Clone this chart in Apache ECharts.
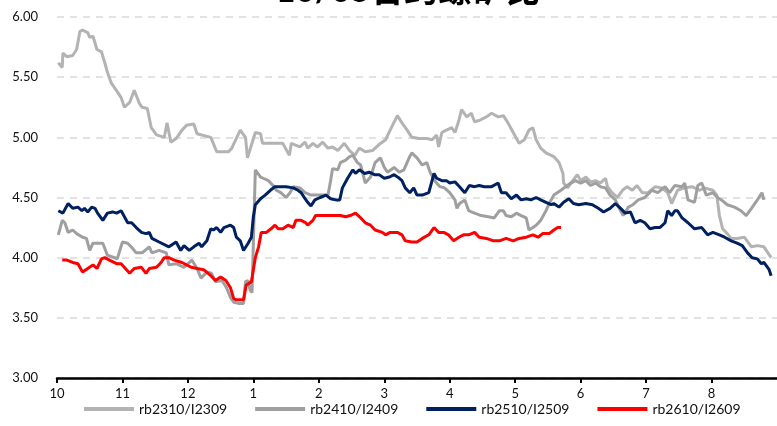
<!DOCTYPE html>
<html>
<head>
<meta charset="utf-8">
<script src="https://cdn.jsdelivr.net/npm/echarts@6/dist/echarts.min.js"></script>
<style>html,body{margin:0;padding:0;background:#fff;}#c{width:777px;height:426px;}</style>
</head>
<body>
<div id="c"></div>
<script>
// x = months elapsed since 1 Oct (0 = Oct, 3 = Jan, ... )
var monthLabels = ['10','11','12','1','2','3','4','5','6','7','8','9'];
var yTicks = [3.00, 3.50, 4.00, 4.50, 5.00, 5.50, 6.00];
var seriesNames = ['rb2310/I2309','rb2410/I2409','rb2510/I2509','rb2610/I2609'];

var rb2310 = [
[0.02,5.62],[0.08,5.58],[0.09,5.70],[0.15,5.67],[0.24,5.68],[0.30,5.73],[0.35,5.88],[0.39,5.89],[0.47,5.87],[0.50,5.83],
[0.55,5.84],[0.61,5.73],[0.68,5.71],[0.73,5.62],[0.77,5.54],[0.83,5.45],[0.92,5.38],[0.98,5.33],[1.03,5.25],[1.11,5.29],
[1.18,5.39],[1.21,5.35],[1.26,5.28],[1.30,5.25],[1.38,5.24],[1.44,5.08],[1.52,5.02],[1.64,5.00],[1.68,5.12],[1.74,4.96],
[1.82,4.99],[1.91,5.06],[1.98,5.10],[2.09,5.11],[2.14,5.03],[2.35,5.00],[2.44,4.88],[2.62,4.88],[2.67,4.91],[2.80,5.06],
[2.88,5.00],[2.91,4.83],[3.03,5.04],[3.11,5.03],[3.14,4.95],[3.45,4.95],[3.55,4.85],[3.58,4.95],[3.71,4.92],[3.79,4.96],
[3.83,4.91],[3.91,4.95],[3.98,4.92],[4.06,4.96],[4.14,4.91],[4.21,4.92],[4.29,4.89],[4.39,4.95],[4.47,4.89],[4.55,4.85],
[4.62,4.91],[4.71,4.88],[4.82,4.89],[4.92,4.94],[5.02,4.98],[5.09,5.06],[5.20,5.18],[5.27,5.12],[5.35,5.06],[5.42,5.00],
[5.53,4.99],[5.65,4.99],[5.73,4.98],[5.80,5.02],[5.83,4.92],[5.88,5.04],[5.95,5.06],[6.03,5.08],[6.08,5.04],[6.14,5.14],
[6.18,5.23],[6.26,5.17],[6.33,5.20],[6.38,5.13],[6.45,5.14],[6.56,5.17],[6.64,5.20],[6.74,5.17],[6.82,5.18],[6.89,5.12],
[6.98,5.03],[7.06,4.95],[7.14,4.98],[7.21,5.06],[7.27,5.08],[7.32,4.98],[7.39,4.91],[7.47,4.87],[7.55,4.85],[7.59,4.84],
[7.67,4.79],[7.73,4.70],[7.74,4.62],[7.80,4.58],[7.88,4.64],[7.95,4.69],[8.00,4.64],[8.08,4.67],[8.15,4.63],[8.23,4.64],
[8.30,4.62],[8.38,4.66],[8.41,4.59],[8.48,4.54],[8.56,4.50],[8.64,4.56],[8.71,4.59],[8.79,4.56],[8.86,4.60],[8.94,4.54],
[9.03,4.54],[9.14,4.59],[9.24,4.58],[9.33,4.54],[9.39,4.45],[9.48,4.56],[9.59,4.58],[9.70,4.59],[9.82,4.56],[9.89,4.58],
[10.02,4.56],[10.08,4.52],[10.12,4.35],[10.17,4.24],[10.24,4.20],[10.30,4.16],[10.39,4.16],[10.50,4.17],[10.61,4.09],[10.70,4.10],
[10.80,4.09],[10.91,4.00]
];

var rb2410 = [
[0.02,4.19],[0.08,4.31],[0.12,4.29],[0.17,4.21],[0.24,4.23],[0.30,4.20],[0.39,4.17],[0.45,4.16],[0.50,4.06],[0.55,4.12],
[0.70,4.12],[0.77,4.02],[0.88,4.00],[0.92,3.99],[1.00,4.13],[1.08,4.12],[1.15,4.08],[1.21,4.04],[1.30,4.04],[1.41,4.09],
[1.45,4.04],[1.56,4.06],[1.67,4.04],[1.71,3.94],[1.82,3.95],[1.94,3.92],[2.06,3.98],[2.14,3.91],[2.20,3.83],[2.29,3.88],
[2.36,3.87],[2.42,3.80],[2.52,3.81],[2.59,3.75],[2.65,3.67],[2.70,3.63],[2.77,3.62],[2.85,3.62],[2.88,3.80],[2.92,3.81],
[2.95,3.73],[2.98,3.71],[3.03,4.73],[3.05,4.74],[3.11,4.67],[3.15,4.66],[3.23,4.64],[3.30,4.60],[3.35,4.56],[3.42,4.54],
[3.50,4.50],[3.56,4.54],[3.61,4.59],[3.71,4.58],[3.79,4.54],[3.88,4.52],[3.98,4.52],[4.14,4.52],[4.18,4.64],[4.21,4.74],
[4.29,4.73],[4.33,4.79],[4.41,4.81],[4.47,4.84],[4.52,4.85],[4.59,4.79],[4.64,4.77],[4.71,4.62],[4.79,4.67],[4.86,4.79],
[4.94,4.83],[5.00,4.75],[5.05,4.71],[5.15,4.75],[5.23,4.71],[5.30,4.73],[5.38,4.83],[5.42,4.87],[5.50,4.83],[5.58,4.77],
[5.65,4.79],[5.70,4.71],[5.77,4.64],[5.85,4.59],[5.92,4.58],[6.00,4.54],[6.08,4.48],[6.11,4.41],[6.15,4.45],[6.23,4.48],
[6.29,4.39],[6.33,4.38],[6.38,4.37],[6.48,4.35],[6.59,4.34],[6.68,4.33],[6.76,4.39],[6.82,4.39],[6.86,4.35],[6.94,4.34],
[7.02,4.37],[7.09,4.35],[7.17,4.33],[7.21,4.23],[7.27,4.25],[7.32,4.27],[7.39,4.31],[7.47,4.39],[7.52,4.45],[7.59,4.52],
[7.70,4.56],[7.77,4.59],[7.85,4.62],[7.92,4.64],[8.00,4.62],[8.08,4.64],[8.15,4.60],[8.23,4.62],[8.30,4.59],[8.38,4.58],
[8.45,4.52],[8.53,4.48],[8.61,4.39],[8.65,4.35],[8.73,4.42],[8.80,4.44],[8.88,4.48],[8.98,4.50],[9.09,4.56],[9.18,4.54],
[9.29,4.59],[9.36,4.54],[9.44,4.60],[9.55,4.59],[9.59,4.62],[9.64,4.48],[9.74,4.46],[9.79,4.60],[9.85,4.62],[9.92,4.52],
[10.02,4.54],[10.09,4.50],[10.15,4.48],[10.24,4.44],[10.35,4.42],[10.45,4.39],[10.53,4.35],[10.61,4.41],[10.70,4.48],[10.77,4.54],
[10.80,4.48]
];

var rb2510 = [
[0.02,4.39],[0.09,4.37],[0.17,4.45],[0.24,4.41],[0.32,4.42],[0.38,4.39],[0.42,4.41],[0.47,4.38],[0.53,4.42],[0.58,4.41],
[0.62,4.37],[0.70,4.31],[0.77,4.37],[0.85,4.38],[0.91,4.37],[0.98,4.39],[1.08,4.29],[1.14,4.29],[1.21,4.25],[1.29,4.21],
[1.36,4.20],[1.41,4.21],[1.45,4.16],[1.56,4.13],[1.71,4.09],[1.82,4.13],[1.89,4.06],[1.94,4.10],[2.02,4.06],[2.09,4.09],
[2.17,4.12],[2.21,4.09],[2.29,4.14],[2.35,4.24],[2.39,4.23],[2.44,4.25],[2.50,4.21],[2.55,4.25],[2.65,4.27],[2.70,4.25],
[2.74,4.17],[2.80,4.14],[2.85,4.06],[2.92,4.12],[2.97,4.17],[3.00,4.34],[3.03,4.44],[3.11,4.49],[3.18,4.52],[3.26,4.56],
[3.33,4.59],[3.41,4.59],[3.50,4.59],[3.61,4.58],[3.68,4.56],[3.73,4.54],[3.79,4.49],[3.83,4.46],[3.88,4.43],[3.94,4.48],
[4.02,4.50],[4.11,4.52],[4.18,4.49],[4.26,4.48],[4.32,4.48],[4.36,4.58],[4.44,4.66],[4.52,4.73],[4.56,4.70],[4.62,4.73],
[4.70,4.70],[4.77,4.71],[4.85,4.69],[4.92,4.69],[5.00,4.66],[5.08,4.67],[5.15,4.69],[5.23,4.66],[5.27,4.64],[5.32,4.58],
[5.39,4.54],[5.45,4.58],[5.50,4.52],[5.58,4.52],[5.68,4.54],[5.76,4.70],[5.80,4.66],[5.88,4.64],[5.95,4.64],[6.00,4.62],
[6.08,4.63],[6.15,4.59],[6.23,4.54],[6.30,4.60],[6.38,4.59],[6.45,4.60],[6.53,4.59],[6.64,4.59],[6.74,4.62],[6.79,4.54],
[6.86,4.54],[6.94,4.49],[7.02,4.52],[7.09,4.48],[7.17,4.49],[7.24,4.48],[7.32,4.50],[7.39,4.48],[7.47,4.46],[7.55,4.44],
[7.59,4.45],[7.67,4.42],[7.74,4.46],[7.82,4.49],[7.89,4.45],[7.97,4.44],[8.08,4.45],[8.18,4.44],[8.27,4.41],[8.35,4.38],
[8.45,4.41],[8.53,4.45],[8.61,4.41],[8.68,4.37],[8.76,4.38],[8.83,4.29],[8.91,4.31],[8.98,4.29],[9.06,4.24],[9.14,4.25],
[9.21,4.25],[9.29,4.29],[9.33,4.39],[9.39,4.35],[9.44,4.39],[9.48,4.39],[9.55,4.33],[9.64,4.29],[9.74,4.24],[9.85,4.25],
[9.94,4.19],[10.02,4.21],[10.12,4.19],[10.20,4.17],[10.30,4.14],[10.39,4.12],[10.47,4.10],[10.55,4.04],[10.62,4.00],[10.70,3.99],
[10.76,3.95],[10.80,3.96],[10.88,3.90],[10.91,3.85]
];

var rb2610 = [
[0.08,3.98],[0.15,3.98],[0.24,3.96],[0.32,3.95],[0.39,3.88],[0.47,3.91],[0.55,3.94],[0.61,3.91],[0.68,3.99],[0.73,4.00],
[0.80,3.98],[0.91,3.95],[0.98,3.95],[1.11,3.87],[1.18,3.91],[1.29,3.92],[1.36,3.87],[1.41,3.91],[1.52,3.92],[1.59,3.96],
[1.64,4.00],[1.71,4.00],[1.79,3.98],[1.91,3.96],[1.94,3.95],[2.05,3.92],[2.14,3.91],[2.24,3.90],[2.35,3.85],[2.42,3.81],
[2.50,3.84],[2.58,3.81],[2.65,3.75],[2.70,3.66],[2.74,3.65],[2.85,3.65],[2.89,3.77],[2.97,3.80],[3.03,4.00],[3.08,4.09],
[3.12,4.21],[3.20,4.21],[3.27,4.24],[3.33,4.27],[3.38,4.24],[3.45,4.24],[3.53,4.27],[3.61,4.25],[3.65,4.31],[3.73,4.31],
[3.80,4.29],[3.83,4.27],[3.91,4.31],[3.95,4.35],[4.09,4.35],[4.18,4.35],[4.33,4.35],[4.41,4.34],[4.48,4.35],[4.56,4.37],
[4.64,4.33],[4.71,4.29],[4.79,4.27],[4.86,4.23],[4.97,4.21],[5.02,4.19],[5.09,4.21],[5.20,4.21],[5.27,4.19],[5.32,4.14],
[5.42,4.13],[5.50,4.13],[5.58,4.16],[5.68,4.19],[5.76,4.25],[5.83,4.21],[5.91,4.21],[5.98,4.19],[6.06,4.14],[6.14,4.17],
[6.21,4.19],[6.29,4.19],[6.38,4.21],[6.45,4.17],[6.56,4.16],[6.67,4.14],[6.76,4.14],[6.86,4.16],[6.97,4.14],[7.06,4.16],
[7.17,4.17],[7.27,4.19],[7.35,4.17],[7.42,4.20],[7.52,4.20],[7.59,4.23],[7.65,4.25],[7.70,4.25]
];

var colors = ['#b3b3b3', '#9f9f9f', '#002060', '#ff0000'];
var FONT = 'Lato, "Noto Sans CJK SC", sans-serif';

var chart = echarts.init(document.getElementById('c'), null, {renderer: 'canvas'});
var dataSets = [rb2310, rb2410, rb2510, rb2610];
var series = seriesNames.map(function (n, i) {
  return {
    name: n, type: 'line', data: dataSets[i], showSymbol: false, symbol: 'none',
    lineStyle: {width: 3, color: colors[i]}, itemStyle: {color: colors[i]},
    z: 2 + i, animation: false
  };
});

chart.setOption({
  animation: false,
  backgroundColor: '#ffffff',
  title: {
    text: '10/05合约螺矿比', left: 408, textAlign: 'center', top: -26, padding: 0,
    textStyle: {fontSize: 34, fontWeight: 'bold', color: '#000', fontFamily: FONT}
  },
  grid: {left: 57, right: -6, top: 17, bottom: 48, containLabel: false},
  legend: {
    data: seriesNames, left: 84, top: 402, padding: 0, itemWidth: 50, itemHeight: 4, itemGap: 28,
    icon: 'rect', textStyle: {fontSize: 14, color: '#111', fontFamily: FONT}
  },
  xAxis: {
    type: 'value', min: 0, max: 11, interval: 1,
    axisLine: {show: true, onZero: false, lineStyle: {color: '#000', width: 2.5}},
    axisTick: {show: true, length: 5, lineStyle: {color: '#000', width: 2}},
    axisLabel: {
      color: '#111', fontSize: 13, fontFamily: FONT, margin: 9, showMaxLabel: false,
      formatter: function (v) { return monthLabels[Math.round(v)] || ''; }
    },
    splitLine: {show: false}
  },
  yAxis: {
    type: 'value', min: yTicks[0], max: yTicks[yTicks.length - 1], interval: 0.5,
    axisLine: {show: false}, axisTick: {show: false},
    axisLabel: {color: '#111', fontSize: 13, fontFamily: FONT, margin: 19,
      formatter: function (v) { return v.toFixed(2); }},
    splitLine: {show: true, lineStyle: {color: '#d9d9d9', width: 1.5, type: [7, 6]}}
  },
  series: series
});
</script>
</body>
</html>
